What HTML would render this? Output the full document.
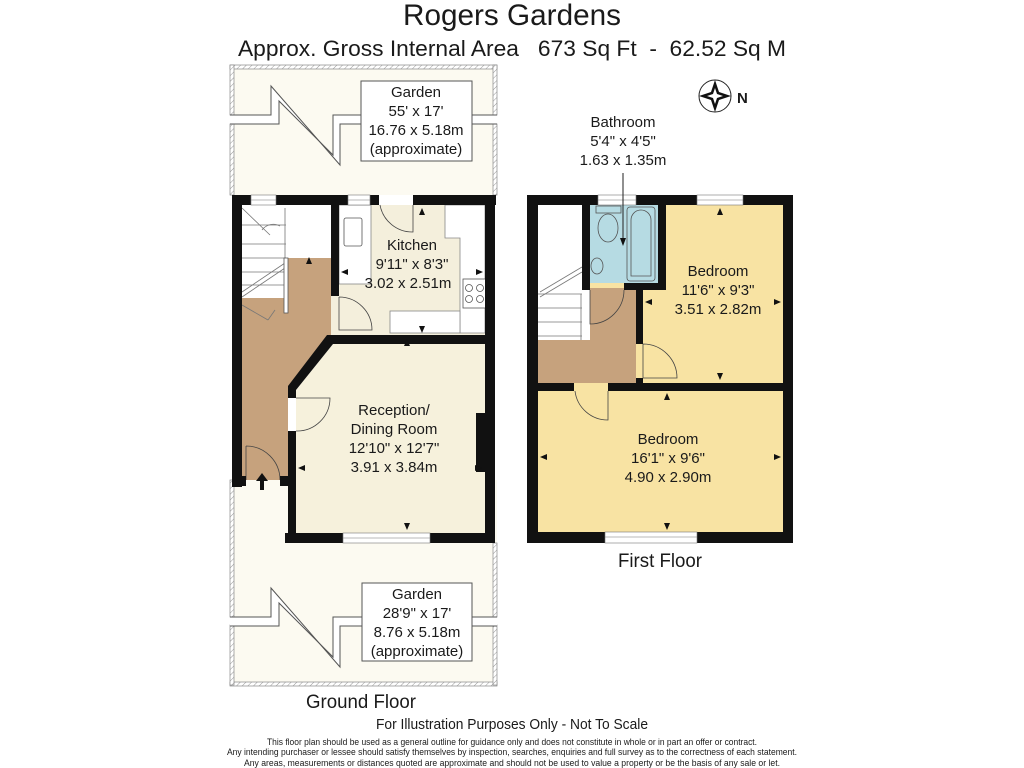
<!DOCTYPE html>
<html><head><meta charset="utf-8"><style>
html,body{margin:0;padding:0;background:#fff;}
svg{display:block;}
text{font-family:"Liberation Sans",sans-serif;fill:#1a1a1a;}
</style></head><body>
<svg width="1024" height="768" viewBox="0 0 1024 768" xmlns="http://www.w3.org/2000/svg">
<defs>
<pattern id="hatch" width="4" height="4" patternUnits="userSpaceOnUse" patternTransform="rotate(45)">
<rect width="4" height="4" fill="#fff"/><line x1="0" y1="0" x2="0" y2="4" stroke="#999" stroke-width="1"/>
</pattern>
</defs>

<text x="512" y="25" font-size="30" text-anchor="middle" textLength="218" lengthAdjust="spacingAndGlyphs">Rogers Gardens</text>
<text x="512" y="56" font-size="22" text-anchor="middle" textLength="548" lengthAdjust="spacingAndGlyphs" xml:space="preserve">Approx. Gross Internal Area   673 Sq Ft  -  62.52 Sq M</text>

<!-- Top garden -->
<rect x="230" y="65" width="267" height="130" fill="#fcfaf1"/>
<rect x="230" y="65" width="267" height="4" fill="url(#hatch)" stroke="#888" stroke-width="0.7"/>
<rect x="230" y="65" width="4" height="50" fill="url(#hatch)" stroke="#888" stroke-width="0.7"/>
<rect x="230" y="124" width="4" height="71" fill="url(#hatch)" stroke="#888" stroke-width="0.7"/>
<rect x="493" y="65" width="4" height="50" fill="url(#hatch)" stroke="#888" stroke-width="0.7"/>
<rect x="493" y="124" width="4" height="71" fill="url(#hatch)" stroke="#888" stroke-width="0.7"/>
<polygon points="230,115 271,115 271,86 340,165 340,124 497,124 497,115 333,115 333,155 279,101 279,124 230,124" fill="#fff"/>
<polyline points="230,115 271,115 271,86 340,165 340,124 497,124" fill="none" stroke="#555" stroke-width="1"/>
<polyline points="230,124 279,124 279,101 333,155 333,115 497,115" fill="none" stroke="#555" stroke-width="1"/>
<rect x="361" y="81" width="111" height="80" fill="#fff" stroke="#555" stroke-width="1"/>
<text font-size="15" text-anchor="middle"><tspan x="416" y="97">Garden</tspan><tspan x="416" y="116">55' x 17'</tspan><tspan x="416" y="135">16.76 x 5.18m</tspan><tspan x="416" y="154">(approximate)</tspan></text>

<!-- Bottom garden -->
<rect x="230" y="480" width="267" height="205" fill="#fcfaf1"/>
<rect x="230" y="682" width="267" height="4" fill="url(#hatch)" stroke="#888" stroke-width="0.7"/>
<rect x="230" y="480" width="4" height="137" fill="url(#hatch)" stroke="#888" stroke-width="0.7"/>
<rect x="230" y="625" width="4" height="60" fill="url(#hatch)" stroke="#888" stroke-width="0.7"/>
<rect x="493" y="543" width="4" height="74" fill="url(#hatch)" stroke="#888" stroke-width="0.7"/>
<rect x="493" y="625" width="4" height="60" fill="url(#hatch)" stroke="#888" stroke-width="0.7"/>
<polygon points="230,617 271,617 271,588 340,667 340,626 497,626 497,617 333,617 333,657 279,603 279,626 230,626" fill="#fff"/>
<polyline points="230,617 271,617 271,588 340,667 340,626 497,626" fill="none" stroke="#555" stroke-width="1"/>
<polyline points="230,626 279,626 279,603 333,657 333,617 497,617" fill="none" stroke="#555" stroke-width="1"/>
<rect x="362" y="583" width="110" height="78" fill="#fff" stroke="#555" stroke-width="1"/>
<text font-size="15" text-anchor="middle"><tspan x="417" y="599">Garden</tspan><tspan x="417" y="618">28'9" x 17'</tspan><tspan x="417" y="637">8.76 x 5.18m</tspan><tspan x="417" y="656">(approximate)</tspan></text>

<!-- GROUND FLOOR -->
<rect x="242" y="205" width="243" height="275" fill="#fff"/>
<rect x="339" y="205" width="146" height="130" fill="#f4efdc"/>
<polygon points="333,344 485,344 485,533 296,533 296,390" fill="#f6f1dc"/>
<polygon points="286,258 331,258 331,335 288,388 288,480 242,480 242,298 286,298" fill="#c6a27d"/>
<rect x="331" y="296" width="8" height="39" fill="#f4efdc"/>
<g stroke="#777" stroke-width="0.8" fill="none">
<line x1="242" y1="225" x2="286" y2="225"/><line x1="242" y1="244" x2="286" y2="244"/>
<line x1="242" y1="258" x2="286" y2="258"/><line x1="242" y1="272" x2="286" y2="272"/>
<line x1="242" y1="285" x2="286" y2="285"/>
<line x1="285" y1="208" x2="285" y2="258"/>
<line x1="242" y1="297" x2="285" y2="268"/><line x1="242" y1="292" x2="285" y2="263"/>
<line x1="242" y1="208" x2="270" y2="235"/>
<path d="M262,230 A14,14 0 0 1 280,226" />
<line x1="242" y1="305" x2="268" y2="320"/><line x1="268" y1="320" x2="275" y2="310"/>
</g>
<rect x="284" y="258" width="4" height="55" fill="#fff" stroke="#555" stroke-width="0.8"/>
<rect x="339" y="205" width="32" height="79" fill="#fff" stroke="#888" stroke-width="0.8"/>
<rect x="344" y="218" width="18" height="28" rx="2" fill="#fff" stroke="#555" stroke-width="0.8"/>
<polygon points="445,205 485,205 485,333 460,333 460,238 445,238" fill="#fff" stroke="#888" stroke-width="0.8"/>
<rect x="390" y="311" width="70" height="22" fill="#fff" stroke="#888" stroke-width="0.8"/>
<rect x="463" y="279" width="24" height="29" fill="#fff" stroke="#555" stroke-width="0.8"/>
<g fill="none" stroke="#555" stroke-width="0.8"><circle cx="469" cy="288" r="3.5"/><circle cx="480" cy="288" r="3.5"/><circle cx="469" cy="299" r="3.5"/><circle cx="480" cy="299" r="3.5"/></g>
<g fill="none" stroke="#444" stroke-width="0.8">
<path d="M413,205 L413,232 A33,33 0 0 1 380,205"/>
<path d="M339,297 L339,330 L372,330 A33,33 0 0 0 339,297"/>
<path d="M296,398 L330,398 A33,33 0 0 1 296,431"/>
<path d="M246,446 L246,480 M246,446 A34,34 0 0 1 280,480"/>
</g>
<g fill="#111">
<rect x="232" y="195" width="19" height="10"/><rect x="276" y="195" width="72" height="10"/>
<rect x="370" y="195" width="9" height="10"/><rect x="413" y="195" width="83" height="10"/>
<rect x="232" y="195" width="10" height="292"/>
<rect x="485" y="195" width="10" height="348"/>
<rect x="285" y="533" width="58" height="10"/><rect x="430" y="533" width="65" height="10"/>
<rect x="331" y="195" width="8" height="101"/>
<polygon points="327,335 495,335 495,344 333,344 296,390 296,398 288,398 288,386"/>
<rect x="288" y="431" width="8" height="112"/>
<rect x="232" y="476" width="14" height="10"/><rect x="280" y="476" width="16" height="10"/>
<rect x="476" y="413" width="10" height="59"/>
</g>
<g fill="#fff" stroke="#777" stroke-width="0.6">
<rect x="251" y="195" width="25" height="10"/><rect x="348" y="195" width="22" height="10"/>
<rect x="343" y="533" width="87" height="10"/>
</g>
<line x1="251" y1="200" x2="276" y2="200" stroke="#777" stroke-width="0.6"/>
<line x1="348" y1="200" x2="370" y2="200" stroke="#777" stroke-width="0.6"/>
<line x1="343" y1="538" x2="430" y2="538" stroke="#777" stroke-width="0.6"/>
<polygon points="262,473 256,481 260,481 260,490 264,490 264,481 268,481" fill="#111"/>
<text font-size="15" text-anchor="middle"><tspan x="412" y="250">Kitchen</tspan><tspan x="412" y="269">9'11" x 8'3"</tspan><tspan x="408" y="288">3.02 x 2.51m</tspan></text>
<text font-size="15" text-anchor="middle"><tspan x="394" y="415">Reception/</tspan><tspan x="394" y="434">Dining Room</tspan><tspan x="394" y="453">12'10" x 12'7"</tspan><tspan x="394" y="472">3.91 x 3.84m</tspan></text>
<g fill="#111">
<polygon points="407,339 404,346 410,346"/><polygon points="407,530 404,523 410,523"/>
<polygon points="298,468 305,465 305,471"/><polygon points="482,468 475,465 475,471"/>
<polygon points="422,208 419,215 425,215"/><polygon points="422,333 419,326 425,326"/>
<polygon points="341,272 348,269 348,275"/><polygon points="483,272 476,269 476,275"/>
<polygon points="309,257 306,264 312,264"/>
</g>

<!-- FIRST FLOOR -->
<rect x="538" y="205" width="245" height="328" fill="#f8e3a3"/>
<rect x="538" y="205" width="52" height="135" fill="#fff"/>
<polygon points="590,288 636,288 636,383 538,383 538,340 590,340" fill="#c6a27d"/>
<rect x="590" y="205" width="68" height="78" fill="#b6dbe3"/>
<g stroke="#777" stroke-width="0.8" fill="none">
<line x1="538" y1="294" x2="582" y2="294"/><line x1="538" y1="308" x2="582" y2="308"/>
<line x1="538" y1="322" x2="582" y2="322"/><line x1="538" y1="336" x2="582" y2="336"/>
<line x1="540" y1="297" x2="582" y2="272"/><line x1="540" y1="292" x2="582" y2="267"/>
<line x1="581" y1="294" x2="581" y2="340"/>
</g>
<g fill="#b6dbe3" stroke="#555" stroke-width="0.8">
<rect x="596" y="206" width="25" height="7"/>
<ellipse cx="608" cy="228" rx="10" ry="14"/>
<rect x="627" y="207" width="28" height="74" rx="3"/>
<path d="M631,276 L631,220 A10,10 0 0 1 651,220 L651,276 Z"/>
<ellipse cx="597" cy="266" rx="6" ry="8"/>
</g>
<g fill="none" stroke="#444" stroke-width="0.8">
<path d="M590,290 L590,324 A34,34 0 0 0 624,290"/>
<path d="M643,344 L643,378 L677,378 A34,34 0 0 0 643,344"/>
<path d="M608,391 L608,420 A33,33 0 0 1 575,391"/>
</g>
<g fill="#111">
<rect x="527" y="195" width="71" height="10"/><rect x="636" y="195" width="61" height="10"/><rect x="743" y="195" width="50" height="10"/>
<rect x="527" y="195" width="11" height="348"/><rect x="783" y="195" width="10" height="348"/>
<rect x="527" y="532" width="78" height="11"/><rect x="697" y="532" width="96" height="11"/>
<rect x="538" y="383" width="36" height="8"/><rect x="608" y="383" width="175" height="8"/>
<rect x="582" y="205" width="8" height="85"/>
<rect x="624" y="283" width="42" height="7"/>
<rect x="658" y="205" width="8" height="85"/>
<rect x="636" y="283" width="7" height="61"/>
<rect x="636" y="378" width="7" height="6"/>
</g>
<g fill="#fff" stroke="#777" stroke-width="0.6">
<rect x="598" y="195" width="38" height="10"/><rect x="697" y="195" width="46" height="10"/>
<rect x="605" y="532" width="92" height="11"/>
</g>
<line x1="598" y1="200" x2="636" y2="200" stroke="#777" stroke-width="0.6"/>
<line x1="697" y1="200" x2="743" y2="200" stroke="#777" stroke-width="0.6"/>
<line x1="605" y1="537" x2="697" y2="537" stroke="#777" stroke-width="0.6"/>
<text font-size="15" text-anchor="middle"><tspan x="623" y="127">Bathroom</tspan><tspan x="623" y="146">5'4" x 4'5"</tspan><tspan x="623" y="165">1.63 x 1.35m</tspan></text>
<line x1="623" y1="173" x2="623" y2="240" stroke="#222" stroke-width="1"/>
<polygon points="623,246 620,238 626,238" fill="#111"/>
<text font-size="15" text-anchor="middle"><tspan x="718" y="276">Bedroom</tspan><tspan x="718" y="295">11'6" x 9'3"</tspan><tspan x="718" y="314">3.51 x 2.82m</tspan></text>
<text font-size="15" text-anchor="middle"><tspan x="668" y="444">Bedroom</tspan><tspan x="668" y="463">16'1" x 9'6"</tspan><tspan x="668" y="482">4.90 x 2.90m</tspan></text>
<g fill="#111">
<polygon points="720,208 717,215 723,215"/><polygon points="720,380 717,373 723,373"/>
<polygon points="645,302 652,299 652,305"/><polygon points="781,302 774,299 774,305"/>
<polygon points="667,393 664,400 670,400"/><polygon points="667,530 664,523 670,523"/>
<polygon points="540,457 547,454 547,460"/><polygon points="781,457 774,454 774,460"/>
</g>

<circle cx="715" cy="96" r="16" fill="#fff" stroke="#222" stroke-width="1"/>
<polygon points="715,80 719,92 731,96 719,100 715,112 711,100 699,96 711,92" fill="#111"/>
<polygon points="715,88 717,94 723,96 717,98 715,104 713,98 707,96 713,94" fill="#fff"/>
<text x="737" y="103" font-size="15" font-weight="bold">N</text>

<text x="361" y="708" font-size="19" text-anchor="middle" textLength="110" lengthAdjust="spacingAndGlyphs">Ground Floor</text>
<text x="660" y="567" font-size="19" text-anchor="middle" textLength="84" lengthAdjust="spacingAndGlyphs">First Floor</text>
<text x="512" y="729" font-size="15" text-anchor="middle" textLength="272" lengthAdjust="spacingAndGlyphs">For Illustration Purposes Only - Not To Scale</text>
<text x="512" y="745" font-size="9" text-anchor="middle" textLength="490" lengthAdjust="spacingAndGlyphs">This floor plan should be used as a general outline for guidance only and does not constitute in whole or in part an offer or contract.</text>
<text x="512" y="755" font-size="9" text-anchor="middle" textLength="570" lengthAdjust="spacingAndGlyphs">Any intending purchaser or lessee should satisfy themselves by inspection, searches, enquiries and full survey as to the correctness of each statement.</text>
<text x="512" y="766" font-size="9" text-anchor="middle" textLength="536" lengthAdjust="spacingAndGlyphs">Any areas, measurements or distances quoted are approximate and should not be used to value a property or be the basis of any sale or let.</text>
</svg>
</body></html>
